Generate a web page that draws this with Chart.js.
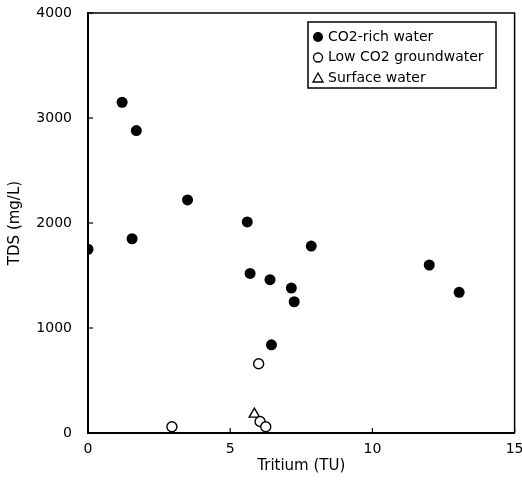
<!DOCTYPE html>
<html>
<head>
<meta charset="utf-8">
<script src="https://cdn.jsdelivr.net/npm/chart.js@4.4.1/dist/chart.umd.min.js"></script>
<style>
  html, body { margin: 0; padding: 0; background: #fff; }
  #wrap { width: 522px; height: 489px; }
</style>
</head>
<body>
<div id="wrap"><canvas id="myChart" width="522" height="489"></canvas></div>
<script>
// Tritium (TU) vs TDS (mg/L)
var co2RichX = [0, 1.2, 1.7, 1.55, 3.5, 5.6, 5.7, 6.4, 7.15, 7.25, 7.85, 6.45, 12.0, 13.05];
var co2RichY = [1750, 3150, 2880, 1850, 2220, 2010, 1520, 1460, 1380, 1250, 1780, 840, 1600, 1340];

var lowCo2X = [2.95, 6.0, 6.05, 6.25];
var lowCo2Y = [60, 660, 110, 60];

var surfaceX = [5.85];
var surfaceY = [180];

var xTicks = [0, 5, 10, 15];
var yTicks = [0, 1000, 2000, 3000, 4000];

var seriesLabels = ['CO2-rich water', 'Low CO2 groundwater', 'Surface water'];

function pts(xs, ys) {
    return xs.map(function (x, i) { return { x: x, y: ys[i] }; });
}

var FONT = 'DejaVu Sans, Arial, sans-serif';

// frame, inward ticks and the boxed legend
var framePlugin = {
    id: 'frame',
    afterDraw: function (chart) {
        var c = chart.ctx, a = chart.chartArea;
        var xs = chart.scales.x, ys = chart.scales.y;
        c.save();
        c.strokeStyle = '#000';
        c.lineWidth = 1.5;
        c.beginPath();
        c.moveTo(a.left, a.top); c.lineTo(a.right, a.top); c.lineTo(a.right, a.bottom);
        c.stroke();
        c.lineWidth = 1.2;
        xTicks.forEach(function (v) {
            var px = xs.getPixelForValue(v);
            c.beginPath(); c.moveTo(px, a.bottom); c.lineTo(px, a.bottom - 5); c.stroke();
        });
        yTicks.forEach(function (v) {
            var py = ys.getPixelForValue(v);
            c.beginPath(); c.moveTo(a.left, py); c.lineTo(a.left + 5, py); c.stroke();
        });

        // legend
        var lx = a.left + 220, ly = a.top + 9, lw = 188, lh = 66;
        c.fillStyle = '#fff';
        c.fillRect(lx, ly, lw, lh);
        c.lineWidth = 1.5;
        c.strokeRect(lx, ly, lw, lh);
        c.font = '14px ' + FONT;
        c.textBaseline = 'middle';
        c.fillStyle = '#000';
        seriesLabels.forEach(function (t, i) {
            var cy = ly + 15 + i * 20.5;
            var mx = lx + 10;
            c.beginPath();
            if (i === 0) {
                c.arc(mx, cy, 5, 0, Math.PI * 2); c.fill();
            } else if (i === 1) {
                c.lineWidth = 1.3; c.arc(mx, cy, 4.5, 0, Math.PI * 2); c.stroke();
            } else {
                c.lineWidth = 1.3;
                c.moveTo(mx, cy - 5); c.lineTo(mx + 5, cy + 4); c.lineTo(mx - 5, cy + 4); c.closePath(); c.stroke();
            }
            c.fillText(t, lx + 20, cy);
        });
        c.restore();
    }
};

var ctx = document.getElementById('myChart').getContext('2d');
var myChart = new Chart(ctx, {
    type: 'scatter',
    data: {
        datasets: [{
            label: seriesLabels[0],
            data: pts(co2RichX, co2RichY),
            pointStyle: 'circle',
            pointRadius: 5.5,
            backgroundColor: '#000',
            borderColor: '#000',
            borderWidth: 0
        }, {
            label: seriesLabels[1],
            data: pts(lowCo2X, lowCo2Y),
            pointStyle: 'circle',
            pointRadius: 5,
            backgroundColor: '#fff',
            borderColor: '#000',
            borderWidth: 1.4
        }, {
            label: seriesLabels[2],
            data: pts(surfaceX, surfaceY),
            pointStyle: 'triangle',
            pointRadius: 6,
            backgroundColor: 'rgba(255,255,255,0)',
            borderColor: '#000',
            borderWidth: 1.4
        }]
    },
    options: {
        responsive: false,
        animation: false,
        layout: { padding: { top: 13, right: 7, left: 0, bottom: 0 } },
        plugins: {
            legend: { display: false },
            tooltip: { enabled: false }
        },
        scales: {
            x: {
                type: 'linear',
                min: 0, max: 15,
                afterBuildTicks: function (s) { s.ticks = xTicks.map(function (v) { return { value: v }; }); },
                afterFit: function (s) { s.height = 56; s.paddingLeft = 0; s.paddingRight = 0; },
                grid: { display: false, drawTicks: false },
                border: { display: true, color: '#000', width: 2 },
                ticks: { color: '#000', padding: 8, maxRotation: 0, font: { family: FONT, size: 14 },
                         callback: function (v) { return String(v); } },
                title: { display: true, text: 'Tritium (TU)', color: '#000', padding: { top: 0, bottom: 14 }, font: { family: FONT, size: 15 } }
            },
            y: {
                type: 'linear',
                min: 0, max: 4000,
                afterBuildTicks: function (s) { s.ticks = yTicks.map(function (v) { return { value: v }; }); },
                afterFit: function (s) { s.width = 88; s.paddingTop = 0; s.paddingBottom = 0; },
                grid: { display: false, drawTicks: false },
                border: { display: true, color: '#000', width: 2 },
                ticks: { color: '#000', padding: 16, font: { family: FONT, size: 14 },
                         callback: function (v) { return String(v); } },
                title: { display: true, text: 'TDS (mg/L)', color: '#000', padding: { top: 6, bottom: 0 }, font: { family: FONT, size: 15 } }
            }
        }
    },
    plugins: [framePlugin]
});
</script>
</body>
</html>
